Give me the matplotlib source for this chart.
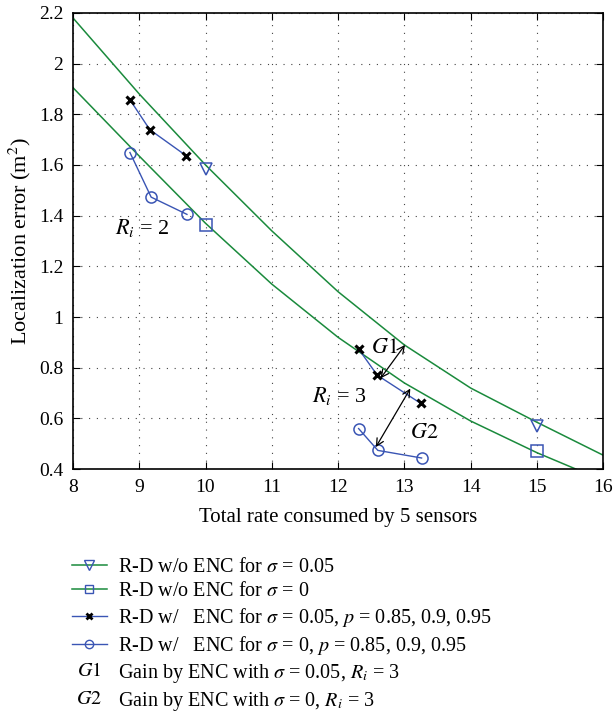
import matplotlib
matplotlib.use("Agg")
import matplotlib.pyplot as plt
from matplotlib.lines import Line2D
from matplotlib.text import Text
from matplotlib.legend_handler import HandlerBase

plt.rcParams['font.family'] = ['Liberation Serif', 'DejaVu Serif']
plt.rcParams['mathtext.fontset'] = 'stix'
plt.rcParams['font.size'] = 13

# R-D curves without ENC (green lines)
rate_curve = [8, 9, 10, 11, 12, 13, 14, 15, 16]
err_sigma005 = [2.18, 1.88, 1.60, 1.34, 1.10, 0.89, 0.72, 0.585, 0.455]
err_sigma0 = [1.905, 1.635, 1.37, 1.13, 0.92, 0.74, 0.59, 0.465, 0.355]

# markers on the w/o ENC curves
rate_noenc = [10, 15]
mark_sigma005 = [1.585, 0.572]
mark_sigma0 = [1.362, 0.470]

# R-D with ENC, p = 0.85, 0.9, 0.95 (Ri = 2 and Ri = 3)
rate_enc005_r2 = [8.86, 9.16, 9.71]
err_enc005_r2 = [1.857, 1.739, 1.636]
rate_enc005_r3 = [12.31, 12.59, 13.25]
err_enc005_r3 = [0.874, 0.771, 0.659]
rate_enc0_r2 = [8.86, 9.18, 9.72]
err_enc0_r2 = [1.649, 1.473, 1.405]
rate_enc0_r3 = [12.31, 12.60, 13.26]
err_enc0_r3 = [0.560, 0.474, 0.444]

green = '#1a8a3c'
blue = '#3a55b4'


class GainHandle:
    def __init__(self, text):
        self.text = text


class GainHandler(HandlerBase):
    # draws the "G1"/"G2" symbol in the legend's handle column
    def create_artists(self, legend, orig_handle, xdescent, ydescent,
                       width, height, fontsize, trans):
        t = Text(width * 0.5 - xdescent, height * 0.5 - ydescent,
                 orig_handle.text, fontsize=fontsize,
                 ha='center', va='center', transform=trans)
        return [t]


fig = plt.figure(figsize=(6.13, 7.13), dpi=100)
ax = fig.add_axes([0.119, 0.342, 0.865, 0.640])

ax.plot(rate_curve, err_sigma005, color=green, lw=1.1)
ax.plot(rate_curve, err_sigma0, color=green, lw=1.1)
ax.plot(rate_noenc, mark_sigma005, ls='none', marker='v', ms=9,
        mfc='none', mec=blue, mew=1.1)
ax.plot(rate_noenc, mark_sigma0, ls='none', marker='s', ms=8,
        mfc='none', mec=blue, mew=1.1)

for xs, ys in [(rate_enc005_r2, err_enc005_r2), (rate_enc005_r3, err_enc005_r3)]:
    ax.plot(xs, ys, color=blue, lw=1.0, marker='x', ms=6, mec='black', mew=2.2)
for xs, ys in [(rate_enc0_r2, err_enc0_r2), (rate_enc0_r3, err_enc0_r3)]:
    ax.plot(xs, ys, color=blue, lw=1.0, marker='o', ms=8, mfc='none', mec=blue, mew=1.1)

# gain arrows
ax.annotate('', xy=(13.01, 0.89), xytext=(12.64, 0.758),
            arrowprops=dict(arrowstyle='<->', color='black', lw=0.9,
                            shrinkA=0, shrinkB=0))
ax.annotate('', xy=(13.09, 0.718), xytext=(12.57, 0.487),
            arrowprops=dict(arrowstyle='<->', color='black', lw=0.9,
                            shrinkA=0, shrinkB=0))
ax.text(12.49, 0.875, '$G1$', fontsize=16, va='center')
ax.text(13.09, 0.54, '$G2$', fontsize=16, va='center')
ax.text(8.63, 1.35, '$R_i$ = 2', fontsize=16, va='center')
ax.text(11.61, 0.69, '$R_i$ = 3', fontsize=16, va='center')

ax.set_xlim(8, 16)
ax.set_ylim(0.4, 2.2)
ax.set_xticks(range(8, 17))
ax.set_yticks([0.4, 0.6, 0.8, 1.0, 1.2, 1.4, 1.6, 1.8, 2.0, 2.2])
ax.set_yticklabels(['0.4', '0.6', '0.8', '1', '1.2', '1.4', '1.6', '1.8', '2', '2.2'])
ax.tick_params(direction='in', top=True, right=True, labelsize=14, length=5, pad=7)
ax.grid(True, color='#444444', ls=(0, (1, 6)), lw=0.8)
for s in ax.spines.values():
    s.set_linewidth(1.2)

ax.set_xlabel('Total rate consumed by 5 sensors', fontsize=15, labelpad=9)
ax.set_ylabel('Localization error (m$^2$)', fontsize=16, labelpad=4)

handles = [
    Line2D([], [], color=green, lw=1.1, marker='v', ms=7, mfc='none', mec=blue),
    Line2D([], [], color=green, lw=1.1, marker='s', ms=6, mfc='none', mec=blue),
    Line2D([], [], color=blue, lw=1.0, marker='x', ms=5, mec='black', mew=2),
    Line2D([], [], color=blue, lw=1.0, marker='o', ms=6, mfc='none', mec=blue),
    GainHandle('$G1$'),
    GainHandle('$G2$'),
]
labels = [
    r'R-D w/o ENC for $\sigma$ = 0.05',
    r'R-D w/o ENC for $\sigma$ = 0',
    r'R-D w/   ENC for $\sigma$ = 0.05, $p$ = 0.85, 0.9, 0.95',
    r'R-D w/   ENC for $\sigma$ = 0, $p$ = 0.85, 0.9, 0.95',
    r'Gain by ENC with $\sigma$ = 0.05, $R_i$ = 3',
    r'Gain by ENC with $\sigma$ = 0, $R_i$ = 3',
]
fig.legend(handles, labels, loc='upper left', bbox_to_anchor=(0.104, 0.229),
           frameon=False, fontsize=14.5, handlelength=1.75, handletextpad=0.55,
           labelspacing=0.25, borderaxespad=0,
           handler_map={GainHandle: GainHandler()})

fig.savefig('out.png', dpi=100)
